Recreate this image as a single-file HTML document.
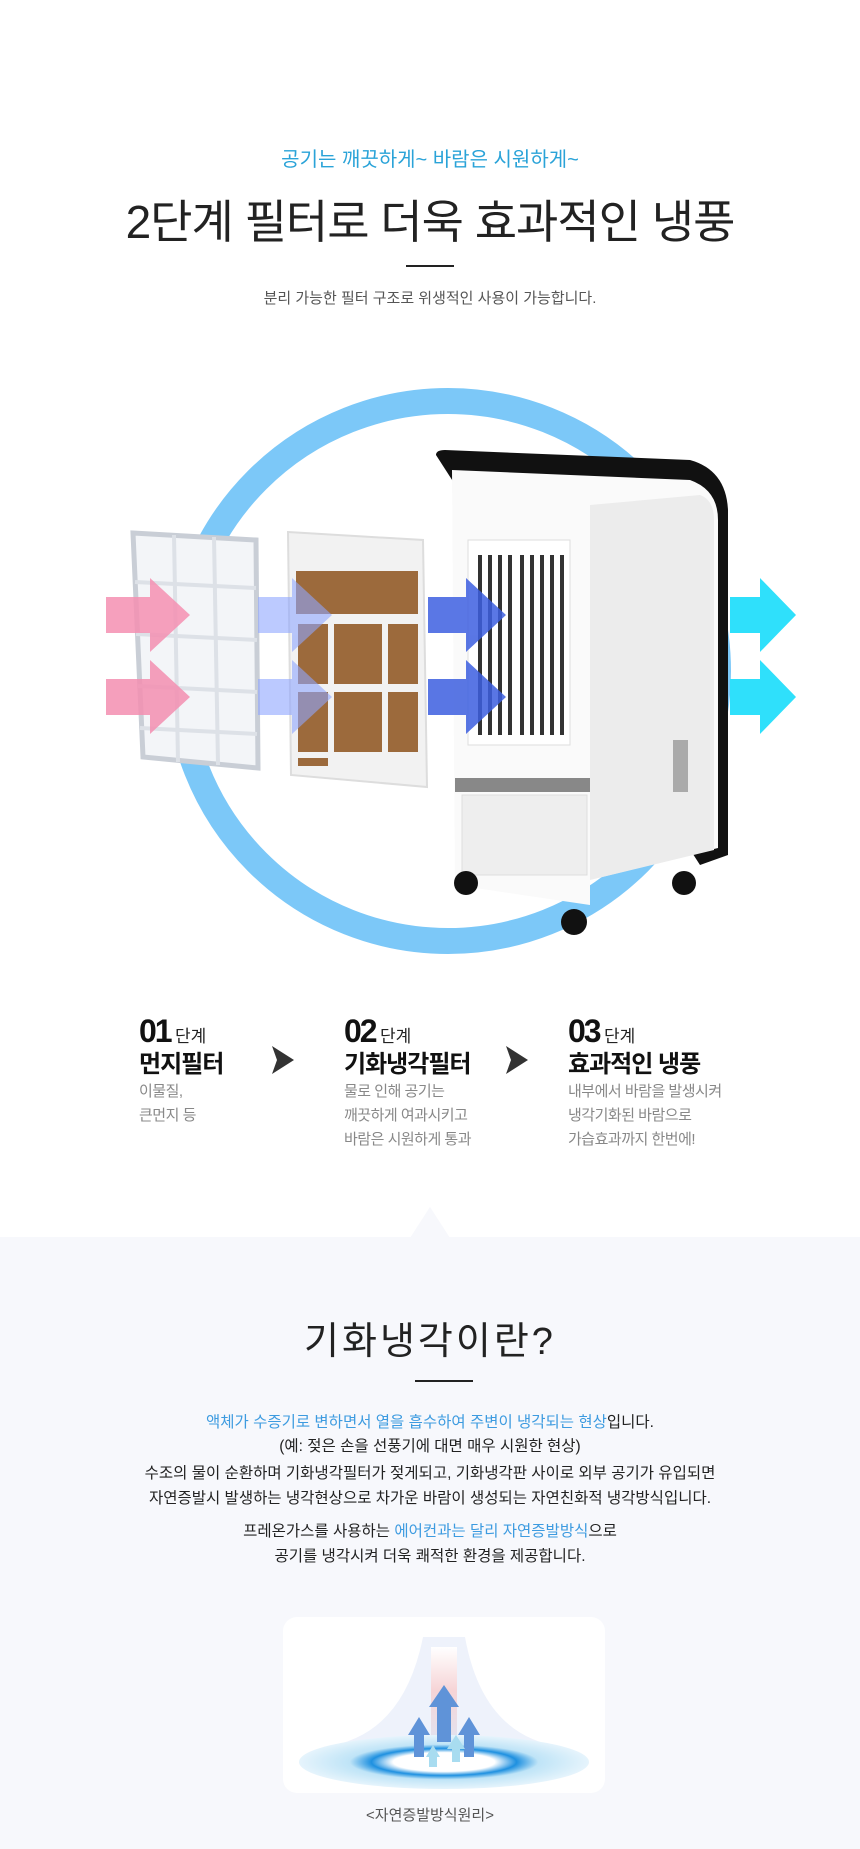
<!DOCTYPE html>
<html><head><meta charset="utf-8"><style>
*{margin:0;padding:0;box-sizing:border-box}
body{width:860px;height:1849px;background:#fff;font-family:"Liberation Sans","Noto Sans CJK KR",sans-serif;position:relative;overflow:hidden;color:#222}
.a{position:absolute;white-space:nowrap}
.c{left:0;width:860px;text-align:center}
.gray{position:absolute;left:0;top:1237px;width:860px;height:612px;background:#f7f8fc}
.st{position:absolute}
.st .n{font-size:32px;font-weight:bold;letter-spacing:-2px;color:#111}
.st .d{font-size:17px;color:#222}
.st .h{font-size:24px;font-weight:bold;letter-spacing:-1px;color:#111;line-height:30px}
.st .p{font-size:15px;color:#888;line-height:24px;letter-spacing:-0.5px}
.b{color:#3d9be0}
</style></head><body>
<div class="a c" style="top:143px;font-size:20px;color:#2aa3d8">공기는 깨끗하게~ 바람은 시원하게~</div>
<div class="a c" style="top:186px;font-size:46px;color:#222;letter-spacing:-1px">2단계 필터로 더욱 효과적인 냉풍</div>
<div class="a" style="left:406px;top:265px;width:48px;height:2px;background:#222"></div>
<div class="a c" style="top:287px;font-size:15px;color:#555">분리 가능한 필터 구조로 위생적인 사용이 가능합니다.</div>

<svg class="a" style="left:0;top:380px" width="860" height="600" viewBox="0 380 860 600">
<circle cx="448" cy="671" r="270" fill="none" stroke="#7cc8f8" stroke-width="26"/>
<polygon points="133,533 256,540 258,768 143,757" fill="#f3f5f8" stroke="#c9ced6" stroke-width="5"/>
<g stroke="#dde1e7" stroke-width="4">
<line x1="174" y1="535" x2="178" y2="762"/><line x1="214" y1="537" x2="218" y2="765"/>
<line x1="135" y1="582" x2="256" y2="588"/><line x1="136" y1="634" x2="257" y2="640"/><line x1="138" y1="686" x2="257" y2="692"/><line x1="140" y1="728" x2="257" y2="734"/>
</g>
<polygon points="288,532 423,540 427,787 291,775" fill="#f2f2f2" stroke="#ddd" stroke-width="2"/>
<g fill="#9c6a3c">
<rect x="296" y="571" width="122" height="43"/>
<rect x="298" y="624" width="30" height="60"/><rect x="334" y="624" width="48" height="60"/><rect x="388" y="624" width="30" height="60"/>
<rect x="298" y="692" width="30" height="60"/><rect x="334" y="692" width="48" height="60"/><rect x="388" y="692" width="30" height="60"/>
<rect x="298" y="758" width="30" height="8"/>
</g>
<path d="M436,455 Q436,450 445,450 L690,460 Q726,470 728,510 L728,855 L700,865 Z" fill="#111"/>
<path d="M452,470 L690,480 Q718,490 718,520 L718,848 L590,880 L590,905 L455,885 Z" fill="#fafafa"/>
<path d="M590,505 L700,495 Q714,500 714,520 L714,850 L590,880 Z" fill="#ececec"/>
<rect x="468" y="540" width="102" height="205" fill="#fff" stroke="#ddd"/>
<g fill="#333">
<rect x="478" y="555" width="4" height="180"/><rect x="488" y="555" width="4" height="180"/><rect x="498" y="555" width="4" height="180"/><rect x="508" y="555" width="4" height="180"/><rect x="520" y="555" width="4" height="180"/><rect x="530" y="555" width="4" height="180"/><rect x="540" y="555" width="4" height="180"/><rect x="550" y="555" width="4" height="180"/><rect x="560" y="555" width="4" height="180"/>
</g>
<rect x="455" y="778" width="135" height="14" fill="#888"/>
<rect x="462" y="795" width="125" height="80" fill="#eee" stroke="#ddd"/>
<circle cx="466" cy="883" r="12" fill="#111"/><circle cx="574" cy="922" r="13" fill="#111"/><circle cx="684" cy="883" r="12" fill="#111"/>
<rect x="673" y="740" width="15" height="52" fill="#aaa"/>
<g fill="#f48fb1" opacity="0.85">
<polygon points="106,597 150,597 150,578 190,615 150,652 150,633 106,633"/>
<polygon points="106,679 150,679 150,660 190,697 150,734 150,715 106,715"/>
</g>
<g fill="#8fa6ff" opacity="0.6">
<polygon points="258,597 292,597 292,578 332,615 292,652 292,633 258,633"/>
<polygon points="258,679 292,679 292,660 332,697 292,734 292,715 258,715"/>
</g>
<g fill="#3d5fe0" opacity="0.85">
<polygon points="428,597 466,597 466,578 506,615 466,652 466,633 428,633"/>
<polygon points="428,679 466,679 466,660 506,697 466,734 466,715 428,715"/>
</g>
<g fill="#2fe0fb">
<polygon points="730,597 760,597 760,578 796,615 760,652 760,633 730,633"/>
<polygon points="730,679 760,679 760,660 796,697 760,734 760,715 730,715"/>
</g>
</svg>

<div class="st" style="left:139px;top:1013px"><span class="n">01</span> <span class="d">단계</span><div class="h">먼지필터</div><div class="p">이물질,<br>큰먼지 등</div></div>
<div class="st" style="left:344px;top:1013px"><span class="n">02</span> <span class="d">단계</span><div class="h">기화냉각필터</div><div class="p">물로 인해 공기는<br>깨끗하게 여과시키고<br>바람은 시원하게 통과</div></div>
<div class="st" style="left:568px;top:1013px"><span class="n">03</span> <span class="d">단계</span><div class="h">효과적인 냉풍</div><div class="p">내부에서 바람을 발생시켜<br>냉각기화된 바람으로<br>가습효과까지 한번에!</div></div>
<svg class="a" style="left:272px;top:1046px" width="24" height="28"><polygon points="0,0 22,14 0,28 5,14" fill="#333"/></svg>
<svg class="a" style="left:506px;top:1046px" width="24" height="28"><polygon points="0,0 22,14 0,28 5,14" fill="#333"/></svg>

<div class="gray"></div>
<svg class="a" style="left:410px;top:1207px" width="40" height="31"><polygon points="20,0 40,31 0,31" fill="#f7f8fc"/></svg>
<div class="a c" style="top:1310px;font-size:38px;color:#222;letter-spacing:3px">기화냉각이란?</div>
<div class="a" style="left:415px;top:1380px;width:58px;height:2px;background:#222"></div>
<div class="a c" style="top:1411px;font-size:15.5px;line-height:24px;color:#222"><span class="b">액체가 수증기로 변하면서 열을 흡수하여 주변이 냉각되는 현상</span>입니다.<br>(예: 젖은 손을 선풍기에 대면 매우 시원한 현상)</div>
<div class="a c" style="top:1461px;font-size:15.5px;line-height:25px;color:#222">수조의 물이 순환하며 기화냉각필터가 젖게되고, 기화냉각판 사이로 외부 공기가 유입되면<br>자연증발시 발생하는 냉각현상으로 차가운 바람이 생성되는 자연친화적 냉각방식입니다.</div>
<div class="a c" style="top:1519px;font-size:15.5px;line-height:25px;color:#222">프레온가스를 사용하는 <span class="b">에어컨과는 달리 자연증발방식</span>으로<br>공기를 냉각시켜 더욱 쾌적한 환경을 제공합니다.</div>

<svg class="a" style="left:283px;top:1617px" width="322" height="176">
<defs>
<radialGradient id="w" cx="50%" cy="50%" r="50%"><stop offset="0.35" stop-color="#fff"/><stop offset="0.5" stop-color="#1e90e0"/><stop offset="0.65" stop-color="#bfe4f7"/><stop offset="1" stop-color="#e6f4fc"/></radialGradient>
<linearGradient id="m" x1="0" y1="0" x2="0" y2="1"><stop offset="0" stop-color="#fff"/><stop offset="0.4" stop-color="#f6d4d6"/><stop offset="1" stop-color="#dbe8f8"/></linearGradient>
</defs>
<rect width="322" height="176" rx="14" fill="#fff"/>
<path d="M40,130 Q120,120 140,20 L182,20 Q200,120 280,130 Q230,150 161,150 Q90,150 40,130 Z" fill="#eef2fb"/>
<rect x="148" y="30" width="26" height="110" fill="url(#m)"/>
<ellipse cx="161" cy="145" rx="145" ry="27" fill="url(#w)"/>
<g fill="#5f93d8"><polygon points="161,68 176,90 168,90 168,125 154,125 154,90 146,90"/><polygon points="136,100 147,118 141,118 141,140 131,140 131,118 125,118"/><polygon points="186,100 197,118 191,118 191,140 181,140 181,118 175,118"/></g>
<g fill="#a8dcf0"><polygon points="173,118 182,132 177,132 177,145 169,145 169,132 164,132"/><polygon points="150,128 157,140 154,140 154,150 146,150 146,140 143,140"/></g>
</svg>
<div class="a c" style="top:1804px;font-size:15px;color:#555">&lt;자연증발방식원리&gt;</div>
</body></html>
